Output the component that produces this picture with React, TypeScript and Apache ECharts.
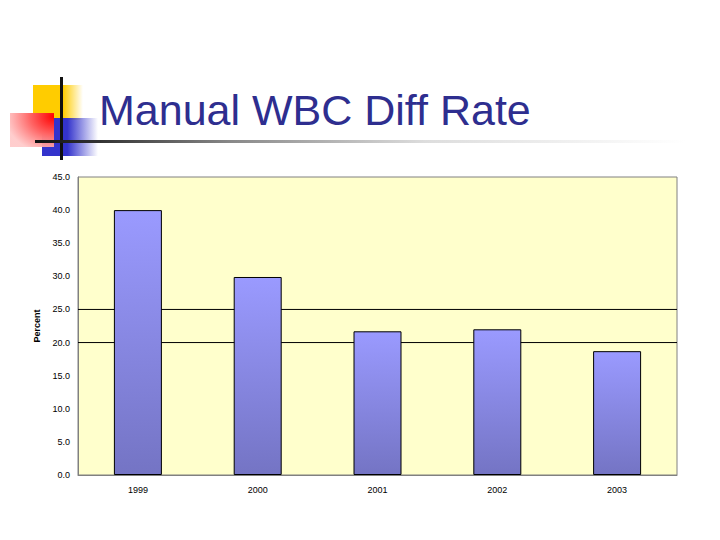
import React, { useEffect, useRef } from "react";
import * as echarts from "echarts";

const titleText = "Manual WBC Diff Rate";
const categories = ["1999", "2000", "2001", "2002", "2003"];
const values = [40.0, 29.9, 21.7, 22.0, 18.7];
const refLines = [25, 20];
const yMin = 0;
const yMax = 45;
const yInterval = 5;
const yName = "Percent";

export default function App() {
  const ref = useRef<HTMLDivElement>(null);
  useEffect(() => {
    if (!ref.current) return;
    const chart = echarts.init(ref.current, null, { renderer: "svg" });
    const lin = (x2: number, y2: number, stops: [number, string][]) => ({
      type: "linear",
      x: 0,
      y: 0,
      x2,
      y2,
      colorStops: stops.map(([offset, color]) => ({ offset, color })),
    });
    chart.setOption({
      animation: false,
      backgroundColor: "#ffffff",
      title: {
        text: titleText,
        left: 94,
        top: 83,
        textStyle: {
          fontFamily: "Liberation Sans",
          fontSize: 43,
          fontWeight: "normal",
          color: "#2E2E8F",
        },
      },
      graphic: [
        {
          type: "rect",
          shape: { x: 33, y: 85, width: 50, height: 35 },
          style: { fill: lin(1, 0, [[0, "#FFCC00"], [0.6, "#FFCC00"], [1, "rgba(255,204,0,0)"]]) },
          z: 1,
        },
        {
          type: "rect",
          shape: { x: 42, y: 118, width: 56, height: 38 },
          style: { fill: lin(1, 0, [[0, "#3333CC"], [0.45, "#3333CC"], [1, "rgba(51,51,204,0)"]]) },
          z: 2,
        },
        {
          type: "rect",
          shape: { x: 10, y: 113, width: 44, height: 34 },
          style: {
            fill: {
              type: "radial",
              x: 1,
              y: 0.1,
              r: 1.1,
              colorStops: [
                { offset: 0, color: "#FF0000" },
                { offset: 0.5, color: "#FF6666" },
                { offset: 1, color: "rgba(255,200,200,0.9)" },
              ],
            },
          },
          z: 3,
        },
        {
          type: "rect",
          shape: { x: 60, y: 77, width: 3, height: 83 },
          style: { fill: "#111111" },
          z: 4,
        },
        {
          type: "rect",
          shape: { x: 35, y: 140, width: 650, height: 3 },
          style: {
            fill: lin(1, 0, [
              [0, "#111111"],
              [0.1, "#333333"],
              [0.3, "#888888"],
              [0.6, "#dddddd"],
              [1, "rgba(255,255,255,1)"],
            ]),
          },
          z: 4,
        },
      ],
      grid: {
        left: 78,
        right: 43,
        top: 177,
        bottom: 65,
        show: true,
        backgroundColor: "#FFFFCC",
        borderColor: "#808080",
        borderWidth: 1,
      },
      xAxis: [
        {
          type: "category",
          data: categories,
          axisLine: { show: true, lineStyle: { color: "#808080" } },
          axisTick: { show: false },
          axisLabel: {
            fontFamily: "Liberation Sans",
            fontSize: 9,
            color: "#000000",
            margin: 10,
          },
        },
        {
          type: "value",
          min: 0,
          max: 1,
          show: false,
        },
      ],
      yAxis: {
        type: "value",
        min: yMin,
        max: yMax,
        interval: yInterval,
        name: yName,
        nameLocation: "middle",
        nameGap: 33,
        nameTextStyle: {
          fontFamily: "Liberation Sans",
          fontSize: 9,
          fontWeight: "bold",
          color: "#000000",
        },
        axisLine: { show: true, lineStyle: { color: "#808080" } },
        axisTick: { show: false },
        splitLine: { show: false },
        axisLabel: {
          fontFamily: "Liberation Sans",
          fontSize: 9,
          color: "#000000",
          margin: 8,
          formatter: (v: number) => v.toFixed(1),
        },
      },
      series: [
        ...refLines.map((v) => ({
          type: "line",
          xAxisIndex: 1,
          data: [
            [0, v],
            [1, v],
          ],
          symbol: "none",
          silent: true,
          z: 1,
          lineStyle: { color: "#000000", width: 1 },
        })),
        {
          type: "bar",
          data: values,
          barWidth: 48,
          z: 3,
          itemStyle: {
            color: lin(0, 1, [[0, "#9A9AFF"], [1, "#7474C4"]]),
            borderColor: "#000000",
            borderWidth: 1,
          },
        },
      ],
    });
    return () => chart.dispose();
  }, []);
  return (
    <div
      ref={ref}
      style={{ position: "fixed", left: 0, top: 0, width: 720, height: 540 }}
    />
  );
}
